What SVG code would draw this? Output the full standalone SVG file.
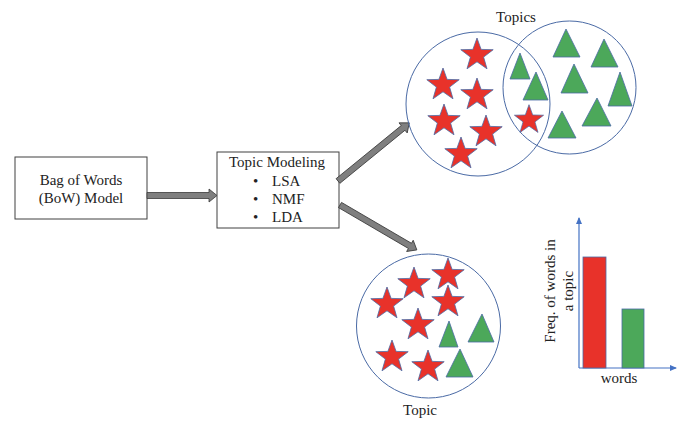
<svg xmlns="http://www.w3.org/2000/svg" xmlns:xlink="http://www.w3.org/1999/xlink" width="683" height="421" viewBox="0 0 683 421">
  <style>
    .box { fill: #ffffff; stroke: #404040; stroke-width: 1; }
    .txt { font-family: "Liberation Serif", "Times New Roman", serif; font-size: 15px; fill: #222222; }
    .ring { fill: none; stroke: #4a6aa5; stroke-width: 1; }
    .star { fill: #e8322a; stroke: #4a6aa5; stroke-width: 0.8; }
    .tri { fill: #4ca85a; stroke: #4a6aa5; stroke-width: 0.8; }
    .barr { fill: #e8322a; stroke: #4a6aa5; stroke-width: 0.8; }
    .barg { fill: #4ca85a; stroke: #4a6aa5; stroke-width: 0.8; }
    .axis { stroke: #4472c4; stroke-width: 1.2; fill: none; }
    .blk { fill: #7f7f7f; stroke: #3a3a3a; stroke-width: 0.8; }
  </style>
  <defs>
    <path id="star" d="M0,-17 L4.1,-5.6 L16.2,-5.3 L6.6,2.1 L10,13.8 L0,6.8 L-10,13.8 L-6.6,2.1 L-16.2,-5.3 L-4.1,-5.6 Z"/>
    <marker id="tip" markerWidth="8" markerHeight="8" refX="6" refY="4" orient="auto" markerUnits="userSpaceOnUse">
      <path d="M0,1 L7,4 L0,7 Z" fill="#4472c4"/>
    </marker>
  </defs>

  <!-- Bag of Words box -->
  <g id="bow">
    <rect class="box" x="15" y="157" width="132" height="62"/>
    <text class="txt" x="81" y="185" text-anchor="middle">Bag of Words</text>
    <text class="txt" x="81" y="203" text-anchor="middle">(BoW) Model</text>
  </g>

  <!-- Topic Modeling box -->
  <g id="topic-modeling">
    <rect class="box" x="217" y="152" width="122" height="76"/>
    <text class="txt" x="277" y="167" text-anchor="middle">Topic Modeling</text>
    <text class="txt" x="253" y="186">•</text>
    <text class="txt" x="272" y="186">LSA</text>
    <text class="txt" x="253" y="204">•</text>
    <text class="txt" x="272" y="204">NMF</text>
    <text class="txt" x="253" y="222">•</text>
    <text class="txt" x="272" y="222">LDA</text>
  </g>

  <!-- Block arrows -->
  <g id="connectors">
    <g transform="translate(147,195.5)">
      <polygon class="blk" points="0,-3 62,-3 62,-6.5 70,0 62,6.5 62,3 0,3"/>
    </g>
    <g transform="translate(338,181) rotate(-39.2)">
      <polygon class="blk" points="0,-3 84,-3 84,-6.5 92,0 84,6.5 84,3 0,3"/>
    </g>
    <g transform="translate(340,205) rotate(30.3)">
      <polygon class="blk" points="0,-3 81,-3 81,-6.5 89,0 81,6.5 81,3 0,3"/>
    </g>
  </g>

  <!-- Topics: two overlapping clusters -->
  <g id="topics">
    <text class="txt" x="516" y="22" text-anchor="middle">Topics</text>
    <circle class="ring" cx="478" cy="104" r="72"/>
    <circle class="ring" cx="569.5" cy="87.5" r="66.5"/>
    <use href="#star" class="star" x="477" y="55"/>
    <use href="#star" class="star" x="443" y="85"/>
    <use href="#star" class="star" x="477" y="95"/>
    <use href="#star" class="star" x="444" y="121"/>
    <use href="#star" class="star" x="486" y="132"/>
    <use href="#star" class="star" x="461" y="154"/>
    <use href="#star" class="star" x="529" y="120" transform="translate(529,120) scale(0.9) translate(-529,-120)"/>
    <polygon class="tri" points="520,53 510,79 530,79"/>
    <polygon class="tri" points="536,72 523,100 548,100"/>
    <polygon class="tri" points="566,29 553,57 580,57"/>
    <polygon class="tri" points="604,39 591,67 618,67"/>
    <polygon class="tri" points="574,64 561,93 588,93"/>
    <polygon class="tri" points="620,72 608,106 632,106"/>
    <polygon class="tri" points="597,98 582,126 611,126"/>
    <polygon class="tri" points="562,111 548,138 576,138"/>
  </g>

  <!-- Single topic cluster -->
  <g id="topic">
    <circle class="ring" cx="428.5" cy="326" r="72"/>
    <use href="#star" class="star" x="414" y="284"/>
    <use href="#star" class="star" x="448" y="275"/>
    <use href="#star" class="star" x="387" y="304"/>
    <use href="#star" class="star" x="448" y="302"/>
    <use href="#star" class="star" x="418" y="325"/>
    <use href="#star" class="star" x="392" y="357"/>
    <use href="#star" class="star" x="428" y="367"/>
    <polygon class="tri" points="449,321 439,347 458,347"/>
    <polygon class="tri" points="482,314 468,342 494,342"/>
    <polygon class="tri" points="460,349 446,377 473,377"/>
    <text class="txt" x="420" y="415" text-anchor="middle">Topic</text>
  </g>

  <!-- Word frequency chart -->
  <g id="chart">
    <line class="axis" x1="579" y1="368" x2="579" y2="218" marker-end="url(#tip)"/>
    <line class="axis" x1="579" y1="368" x2="676" y2="368" marker-end="url(#tip)"/>
    <rect class="barr" x="583" y="257" width="23" height="111"/>
    <rect class="barg" x="622" y="309" width="22" height="59"/>
    <text class="txt" x="619" y="383" text-anchor="middle">words</text>
    <text class="txt" transform="translate(555,291) rotate(-90)" text-anchor="middle">Freq. of words in</text>
    <text class="txt" transform="translate(573,291) rotate(-90)" text-anchor="middle">a topic</text>
  </g>
</svg>
